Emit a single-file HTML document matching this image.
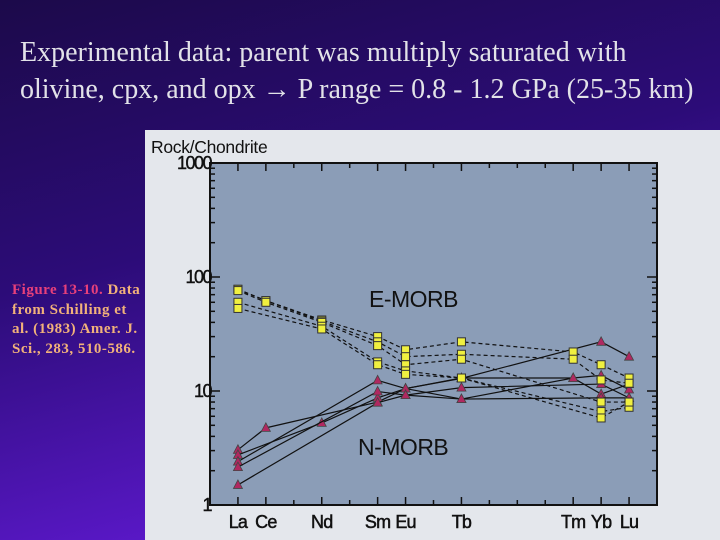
<!DOCTYPE html>
<html><head><meta charset="utf-8"><style>
body{margin:0;width:720px;height:540px;overflow:hidden;background:linear-gradient(165deg,#1c0a4a 0%,#2c0c78 40%,#5a18c8 80%,#6a22d8 100%);font-family:"Liberation Serif",serif;position:relative}
#title{position:absolute;left:20px;top:34px;color:#e2e2e8;font-size:28px;line-height:37px;white-space:nowrap}
#cap{position:absolute;left:12px;top:281px;width:150px;font-size:15px;font-weight:bold;line-height:19.5px;color:#f2b27a;letter-spacing:0.5px;white-space:nowrap}
#cap span{color:#e8407a}
svg{position:absolute;left:0;top:0}
</style></head><body>
<div id="title">Experimental data: parent was multiply saturated with<br>olivine, cpx, and opx → P range = 0.8 - 1.2 GPa (25-35 km)</div>
<div id="cap"><span>Figure 13-10.</span> Data<br>from Schilling et<br>al. (1983) Amer. J.<br>Sci., 283, 510-586.</div>
<svg id="chart" width="720" height="540"></svg>
<script>
const categories=["La","Ce","Nd","Sm","Eu","Tb","Tm","Yb","Lu"];
const catIndex=[0,1,3,5,6,8,12,13,14];
const yTicks=[1,10,100,1000];
const eMorb1=[78,62,42,30,23,27,22,17,13];
const eMorb2=[78,62,41,27,20,21,19,12.5,11.7];
const eMorb3=[76,60,40,25,17,19,null,8,8];
const eMorb4=[60,null,37,18,15,13,null,6.6,7.2];
const eMorb5=[53,null,35,17,14,13,null,5.8,8];
const nMorb1=[3.05,4.75,null,8,10.5,12.9,null,27,20];
const nMorb2=[2.75,null,5.25,8.7,10.5,13,13,13.7,10.3];
const nMorb3=[2.4,null,null,12.4,10.5,8.5,13,9.4,11.5];
const nMorb4=[2.15,null,null,9.9,9.2,10.7,null,11.5,8.7];
const nMorb5=[1.5,null,null,7.9,9.2,8.5,null,8.7,8.7];
const eSeries=[eMorb1,eMorb2,eMorb3,eMorb4,eMorb5];
const nSeries=[nMorb1,nMorb2,nMorb3,nMorb4,nMorb5];
const NS="http://www.w3.org/2000/svg";
const svg=document.getElementById('chart');
const L=210,R=657,T=163,B=505;
const xs=i=>L+(i+1)*(R-L)/16;
const ys=v=>B-(B-T)*Math.log10(v)/3;
function mk(tag,a,p){const e=document.createElementNS(NS,tag);for(const k in a)e.setAttribute(k,a[k]);(p||svg).appendChild(e);return e;}
const panel=mk('rect',{x:145,y:130,width:575,height:410,fill:'#e4e7ec'});


const plot=mk('rect',{x:L,y:T,width:R-L,height:B-T,fill:'#8b9db7',stroke:'#111','stroke-width':2});


const yt=mk('text',{x:151,y:153,'font-family':'Liberation Sans, sans-serif','font-size':17.5,fill:'#111','letter-spacing':'-0.3'});
yt.textContent='Rock/Chondrite';


for(let d=0;d<3;d++){for(let m=1;m<10;m++){const v=Math.pow(10,d)*m;const y=ys(v);const len=m===1?10:5;
mk('line',{x1:L,x2:L+len,y1:y,y2:y,stroke:'#111','stroke-width':1.5});
mk('line',{x1:R,x2:R-len,y1:y,y2:y,stroke:'#111','stroke-width':1.5});}}
yTicks.forEach(v=>{const t=mk('text',{x:211,y:ys(v)+6,'text-anchor':'end','font-family':'Liberation Sans, sans-serif','font-size':18,fill:'#111',stroke:'#111','stroke-width':0.4,'letter-spacing':'-1.5'});t.textContent=v;

});
for(let i=0;i<15;i++){const x=xs(i);const len=[0,1,3,5,6,8,12,13,14].includes(i)?8:5;
mk('line',{x1:x,x2:x,y1:B,y2:B-len,stroke:'#111','stroke-width':1.5});
mk('line',{x1:x,x2:x,y1:T,y2:T+len,stroke:'#111','stroke-width':1.5});}
categories.forEach((c,k)=>{const t=mk('text',{x:xs(catIndex[k]),y:528,'text-anchor':'middle','font-family':'Liberation Sans, sans-serif','font-size':18,fill:'#111',stroke:'#111','stroke-width':0.5,'letter-spacing':'-0.8'});t.textContent=c;

});
function drawSeries(arr,dashed,name){const g=mk('g',{});


const pts=[];arr.forEach((v,k)=>{if(v!=null)pts.push([xs(catIndex[k]),ys(v)]);});
mk('polyline',{points:pts.map(p=>p.join(',')).join(' '),fill:'none',stroke:'#111','stroke-width':1.2,'stroke-dasharray':dashed?'4,3':'none'},g);
pts.forEach(p=>{if(dashed)mk('rect',{x:p[0]-4,y:p[1]-4,width:8,height:8,fill:'#f0f040',stroke:'#333','stroke-width':1},g);
else mk('polygon',{points:`${p[0]},${p[1]-5} ${p[0]-4.5},${p[1]+3.5} ${p[0]+4.5},${p[1]+3.5}`,fill:'#b02860',stroke:'#444','stroke-width':0.8},g);});}
nSeries.forEach((s,i)=>drawSeries(s,false,'n-morb-series-'+(i+1)));
eSeries.forEach((s,i)=>drawSeries(s,true,'e-morb-series-'+(i+1)));
const e=mk('text',{x:369,y:307,'font-family':'Liberation Sans, sans-serif','font-size':23,fill:'#111','letter-spacing':'-0.5'});e.textContent='E-MORB';


const n=mk('text',{x:358,y:455,'font-family':'Liberation Sans, sans-serif','font-size':23,fill:'#111','letter-spacing':'-0.5'});n.textContent='N-MORB';


</script>
</body></html>
